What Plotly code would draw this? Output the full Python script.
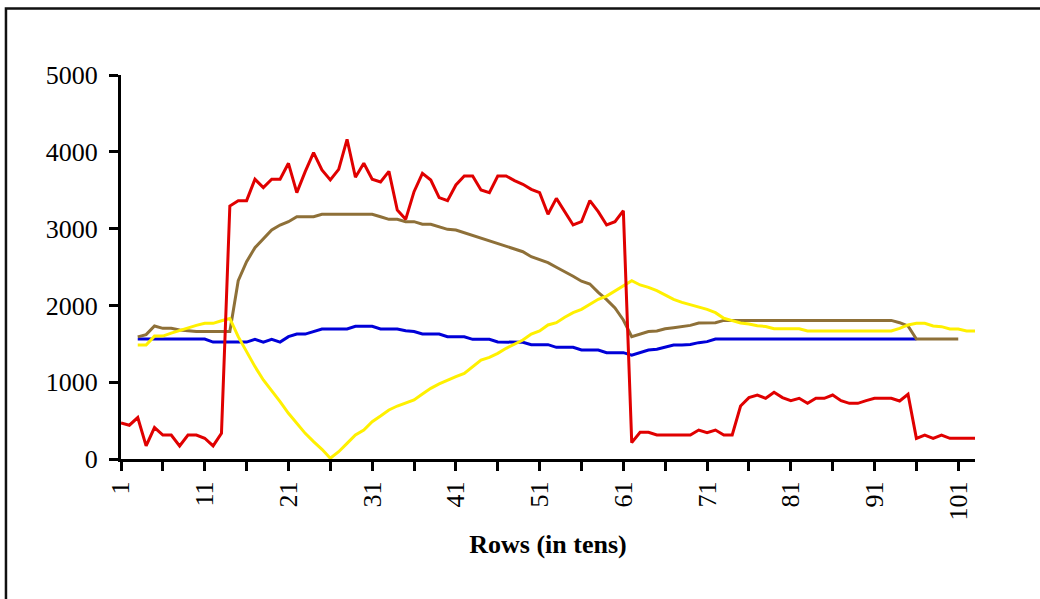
import plotly.graph_objects as go

# ---------------- data ----------------
red_start = 1
red = [470, 440, 540, 170, 410, 312, 312, 170, 312, 312,
       270, 170, 334, 3294, 3364, 3364, 3642, 3533, 3642, 3642,
       3850, 3468, 3741, 3989, 3763, 3633, 3772, 4163, 3668, 3850,
       3642, 3607, 3745, 3242, 3121, 3481, 3720, 3633, 3403, 3364,
       3568, 3685, 3685, 3503, 3468, 3685, 3685, 3624, 3577, 3512,
       3468, 3186, 3394, 3221, 3047, 3090, 3364, 3221, 3047, 3090,
       3233, 213, 347, 347, 312, 312, 312, 312, 312, 377,
       342, 377, 312, 312, 690, 799, 833, 790, 868, 799,
       760, 790, 725, 790, 790, 833, 760, 725, 725, 760,
       790, 790, 790, 755, 842, 269, 312, 269, 312, 269,
       269, 269, 269]

brown_start = 3
brown = [1590, 1620, 1732, 1701, 1701, 1680, 1671, 1660, 1660, 1660,
         1660, 1660, 2322, 2569, 2752, 2873, 2982, 3047, 3090, 3155,
         3155, 3155, 3186, 3186, 3186, 3186, 3186, 3186, 3186, 3155,
         3121, 3121, 3090, 3090, 3056, 3056, 3025, 2990, 2982, 2947,
         2908, 2873, 2839, 2799, 2765, 2738, 2699, 2634, 2591, 2556,
         2496, 2440, 2380, 2315, 2279, 2170, 2075, 1966, 1810, 1593,
         1624, 1660, 1667, 1695, 1710, 1730, 1740, 1770, 1770, 1775,
         1805, 1805, 1805, 1805, 1805, 1805, 1805, 1805, 1805, 1805,
         1805, 1805, 1805, 1805, 1805, 1805, 1805, 1805, 1805, 1805,
         1805, 1775, 1731, 1562, 1562, 1562, 1562, 1562, 1562]

blue_start = 3
blue = [1562, 1562, 1562, 1562, 1562, 1562, 1562, 1562, 1562, 1522,
        1522, 1522, 1522, 1522, 1558, 1522, 1558, 1522, 1593, 1626,
        1626, 1658, 1693, 1693, 1693, 1693, 1727, 1727, 1727, 1693,
        1693, 1693, 1669, 1660, 1628, 1628, 1628, 1592, 1592, 1592,
        1558, 1558, 1558, 1523, 1523, 1523, 1520, 1489, 1489, 1489,
        1454, 1454, 1454, 1419, 1419, 1419, 1385, 1385, 1385, 1352,
        1385, 1419, 1430, 1454, 1484, 1484, 1490, 1515, 1528, 1562,
        1562, 1562, 1562, 1562, 1562, 1562, 1562, 1562, 1562, 1562,
        1562, 1562, 1562, 1562, 1562, 1562, 1562, 1562, 1562, 1562,
        1562, 1562, 1562, 1562]

yellow_start = 3
yellow = [1484, 1484, 1600, 1600, 1640, 1675, 1710, 1740, 1766, 1766,
          1800, 1830, 1593, 1397, 1203, 1029, 890, 747, 595, 464,
          334, 226, 126, 10, 95, 204, 312, 378, 486, 560,
          638, 690, 728, 770, 846, 920, 977, 1029, 1072, 1115,
          1202, 1289, 1324, 1375, 1441, 1497, 1549, 1628, 1667, 1745,
          1775, 1845, 1905, 1948, 2014, 2079, 2122, 2192, 2257, 2322,
          2266, 2235, 2192, 2130, 2079, 2040, 2010, 1975, 1948, 1905,
          1832, 1801, 1770, 1758, 1735, 1725, 1695, 1695, 1695, 1695,
          1667, 1667, 1667, 1667, 1667, 1667, 1667, 1667, 1667, 1667,
          1667, 1701, 1745, 1767, 1767, 1732, 1723, 1693, 1693, 1667,
          1667]

x_title = "Rows (in tens)"
y_ticks = [0, 1000, 2000, 3000, 4000, 5000]

# ---------------- figure ----------------
FONT = "Liberation Serif"
series = [
    ("blue", blue_start, blue, "#0000D8"),
    ("brown", brown_start, brown, "#8E7038"),
    ("yellow", yellow_start, yellow, "#FFF000"),
    ("red", red_start, red, "#E00000"),
]

fig = go.Figure()
for name, start, vals, col in series:
    fig.add_trace(go.Scatter(
        x=list(range(start, start + len(vals))), y=vals, mode="lines",
        name=name, line=dict(color=col, width=3), showlegend=False,
        hoverinfo="x+y"))

xr = [1, 103]
yr = [0, 5000]
tick_common = dict(tickcolor="black", tickwidth=3, ticklen=9)

fig.update_layout(
    width=1040, height=599,
    margin=dict(l=121, r=65, t=75, b=140),
    paper_bgcolor="white", plot_bgcolor="white",
    font=dict(family=FONT, size=26, color="black"),
    xaxis=dict(
        range=xr, tick0=1, dtick=10, ticks="outside", **tick_common,
        minor=dict(tick0=1, dtick=5, ticks="outside", ticklen=9,
                   tickwidth=3, tickcolor="black"),
        tickangle=-90, showgrid=False, zeroline=False,
        showline=True, linecolor="black", linewidth=3,
        ticklabelstandoff=0,
        title=dict(text="<b>" + x_title + "</b>", standoff=16,
                   font=dict(family=FONT, size=26)),
    ),
    yaxis=dict(
        range=yr, tickvals=y_ticks, ticks="outside", **tick_common,
        showgrid=False, zeroline=False,
        showline=True, linecolor="black", linewidth=3,
        ticklabelstandoff=6,
    ),
    xaxis2=dict(
        range=xr, overlaying="x", anchor="y", side="bottom",
        tick0=1, dtick=10, ticks="inside", **tick_common,
        minor=dict(tick0=1, dtick=5, ticks="inside", ticklen=9,
                   tickwidth=3, tickcolor="black"),
        showticklabels=False, showgrid=False, zeroline=False, showline=False,
    ),
    yaxis2=dict(
        range=yr, overlaying="y", anchor="x", side="left",
        tickvals=y_ticks, ticks="inside", **tick_common,
        showticklabels=False, showgrid=False, zeroline=False, showline=False,
    ),
    shapes=[dict(type="rect", xref="paper", yref="paper",
                 x0=-0.1347, x1=1.09, y0=-0.40, y1=1.173,
                 line=dict(color="#111", width=2.5), fillcolor="rgba(0,0,0,0)",
                 layer="below")],
)

fig.write_html("out.html")
